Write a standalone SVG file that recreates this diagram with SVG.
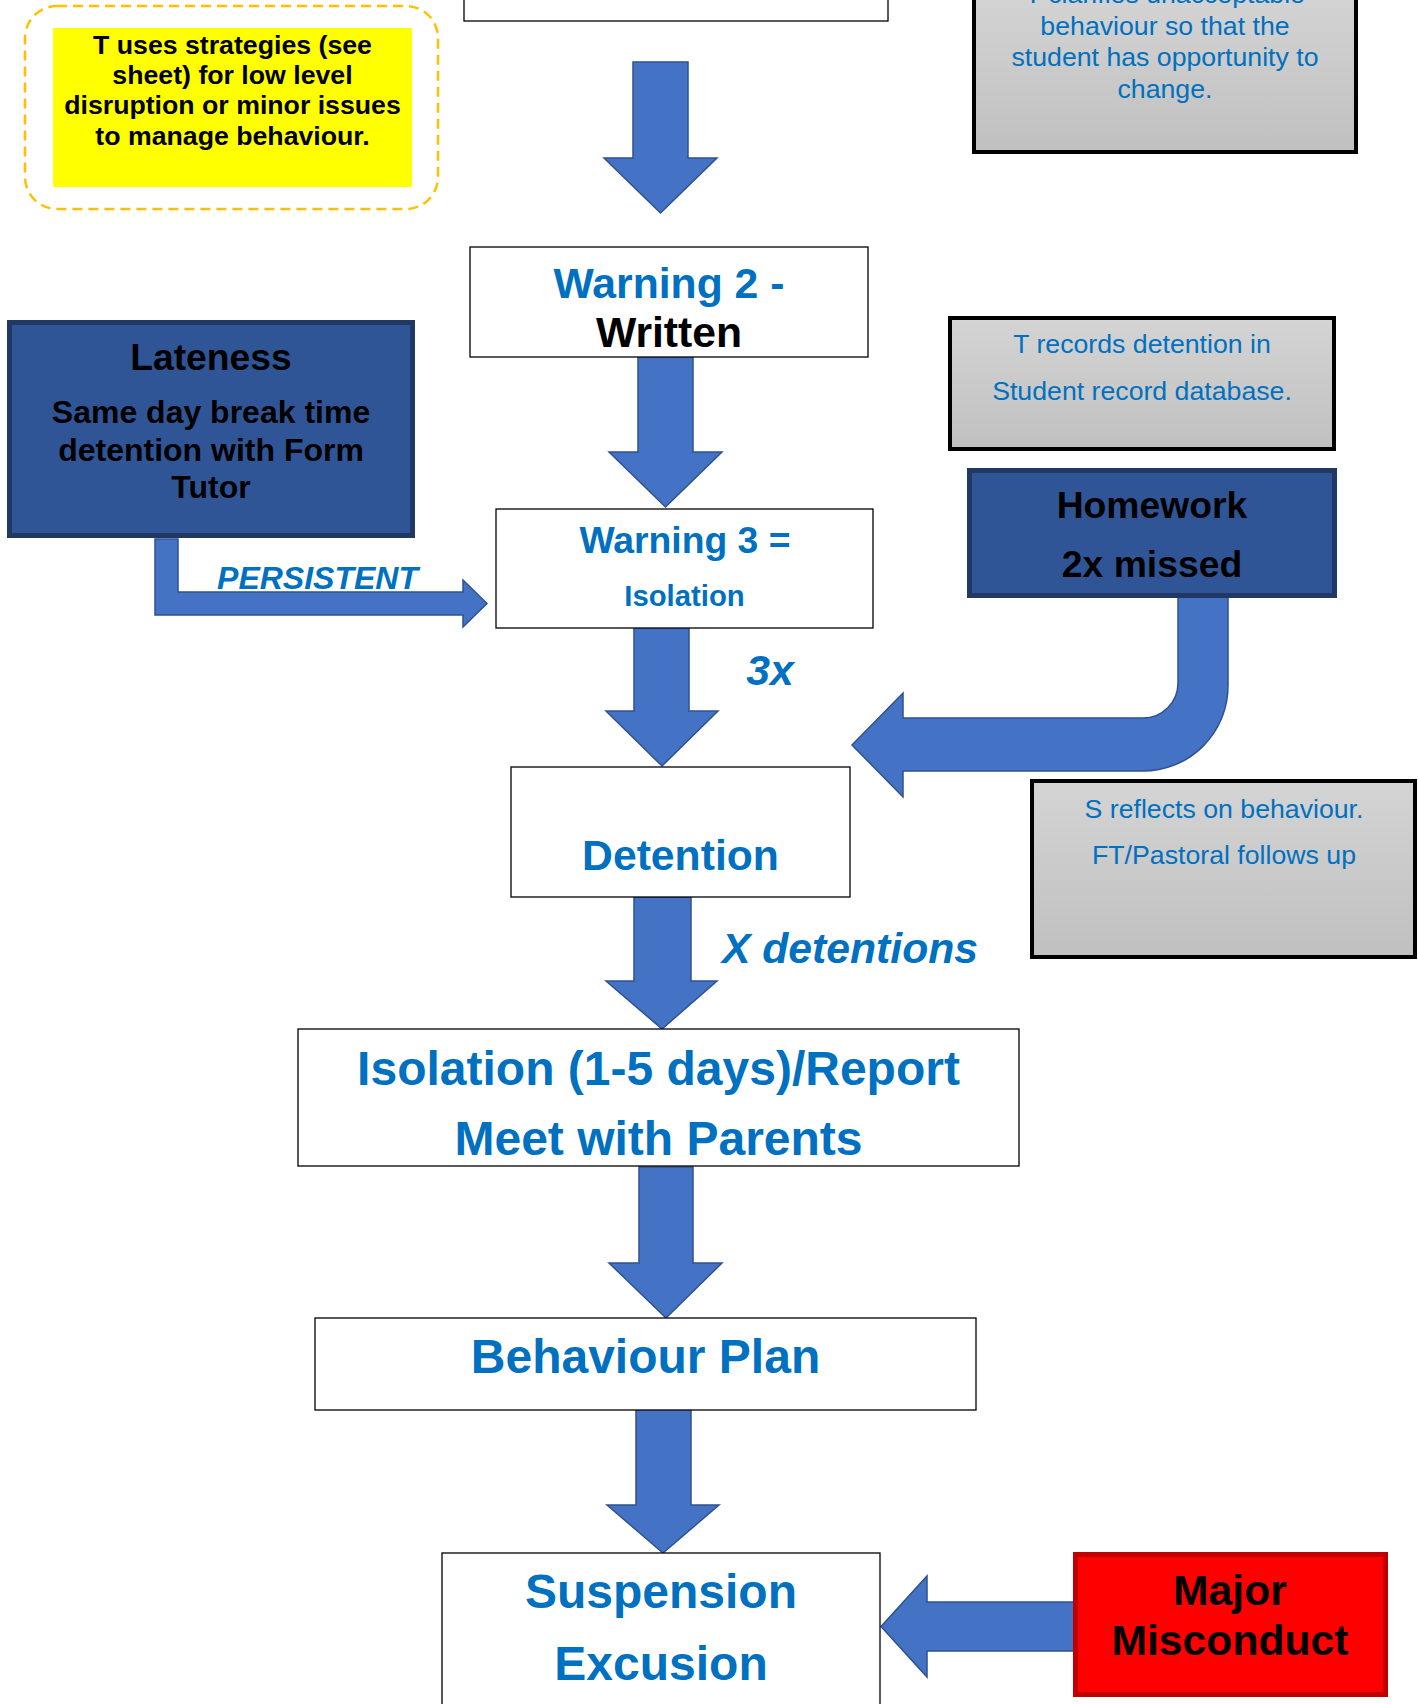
<svg xmlns="http://www.w3.org/2000/svg" width="1418" height="1704" viewBox="0 0 1418 1704">
<defs>
<linearGradient id="grey" x1="0" y1="0" x2="0" y2="1">
<stop offset="0" stop-color="#D4D4D4"/>
<stop offset="1" stop-color="#C0C0C0"/>
</linearGradient>
<style>
.t{font-family:"Liberation Sans",Arial,sans-serif;text-anchor:middle}
.b{font-weight:bold}
.i{font-style:italic}
.blue{fill:#0070C0}
.blk{fill:#000}
.wbox{fill:#fff;stroke:#000;stroke-width:1.3}
.gbox{fill:url(#grey);stroke:#000;stroke-width:4}
.nbox{fill:#2F5597;stroke:#1F3864;stroke-width:5}
.arr{fill:#4472C4;stroke:#2F528F;stroke-width:1.5;stroke-linejoin:miter}
</style>
</defs>
<rect width="1418" height="1704" fill="#fff"/>

<g id="connectors">
<polygon class="arr" points="633,62 688,62 688,158 717,158 660.5,213 604,158 633,158"/>
<polygon class="arr" points="638,356 693,356 693,452 722,452 665.5,507 609,452 638,452"/>
<polygon class="arr" points="634,616 689,616 689,711 718,711 662,766 606,711 634,711"/>
<polygon class="arr" points="634,897 691,897 691,981 717,981 662,1029 606,981 634,981"/>
<polygon class="arr" points="639,1167 693,1167 693,1263 722,1263 666,1318 609,1263 639,1263"/>
<polygon class="arr" points="636,1409 691,1409 691,1505 719,1505 663,1553 607,1505 636,1505"/>
<polygon class="arr" points="1076,1602 927,1602 927,1576 881,1626.5 927,1677 927,1651 1076,1651"/>
<path class="arr" d="M1178,596 L1178,683 A35,35 0 0 1 1143,718 L903,718 L903,693 L852,745 L903,797 L903,771 L1143,771 A85,85 0 0 0 1228,686 L1228,596 Z"/>
<path class="arr" d="M155,539 L178,539 L178,592 L463,592 L463,580 L487,603.5 L463,627 L463,615 L155,615 Z"/>
</g>

<g id="strategies">
<rect x="25" y="6" width="413" height="203" rx="32" ry="32" fill="none" stroke="#FFC000" stroke-width="2.5" stroke-dasharray="10 6"/>
<rect x="53" y="28" width="359" height="159" fill="#FFFF00"/>
<text class="t b blk" font-size="26.7"><tspan x="232.5" y="53.5">T uses strategies (see</tspan><tspan x="232.5" y="84">sheet) for low level</tspan><tspan x="232.5" y="114">disruption or minor issues</tspan><tspan x="232.5" y="144.5">to manage behaviour.</tspan></text>
</g>

<g id="top-box">
<rect class="wbox" x="464" y="-10" width="424" height="31"/>
</g>

<g id="clarifies">
<rect class="gbox" x="974" y="-10" width="382" height="162"/>
<text class="t blue" font-size="26.7"><tspan x="1165" y="3">T clarifies unacceptable</tspan><tspan x="1165" y="34.5">behaviour so that the</tspan><tspan x="1165" y="66">student has opportunity to</tspan><tspan x="1165" y="97.5">change.</tspan></text>
</g>

<g id="warning2">
<rect class="wbox" x="470" y="247" width="398" height="110"/>
<text class="t b blue" font-size="42.7" x="669" y="298">Warning 2 -</text>
<text class="t b blk" font-size="42.7" x="669" y="347">Written</text>
</g>

<g id="lateness">
<rect class="nbox" x="9.5" y="322.5" width="403" height="213"/>
<text class="t b blk" font-size="37.3" x="211" y="370">Lateness</text>
<text class="t b blk" font-size="32"><tspan x="211" y="423">Same day break time</tspan><tspan x="211" y="461">detention with Form</tspan><tspan x="211" y="498">Tutor</tspan></text>
</g>

<g id="records">
<rect class="gbox" x="950" y="318" width="384" height="131"/>
<text class="t blue" font-size="26.7"><tspan x="1142" y="353">T records detention in</tspan><tspan x="1142" y="400">Student record database.</tspan></text>
</g>

<g id="homework">
<rect class="nbox" x="969.5" y="470.5" width="365" height="125"/>
<text class="t b blk" font-size="37.3"><tspan x="1152" y="518">Homework</tspan><tspan x="1152" y="577">2x missed</tspan></text>
</g>

<g id="warning3">
<rect class="wbox" x="496" y="509" width="377" height="119"/>
<text class="t b blue" font-size="37.3" x="685" y="553">Warning 3 =</text>
<text class="t b blue" font-size="29.3" x="684.5" y="606">Isolation</text>
</g>

<g id="labels">
<text class="t b i blue" font-size="32" x="317.5" y="589">PERSISTENT</text>
<text class="t b i blue" font-size="42.7" x="770" y="685">3x</text>
<text class="t b i blue" font-size="42.7" x="850" y="963">X detentions</text>
</g>

<g id="detention">
<rect class="wbox" x="511" y="767" width="339" height="130"/>
<text class="t b blue" font-size="42.7" x="680.5" y="870">Detention</text>
</g>

<g id="reflects">
<rect class="gbox" x="1032" y="781" width="383" height="176"/>
<text class="t blue" font-size="26.7"><tspan x="1224" y="818">S reflects on behaviour.</tspan><tspan x="1224" y="864">FT/Pastoral follows up</tspan></text>
</g>

<g id="isolation">
<rect class="wbox" x="298" y="1029" width="721" height="137"/>
<text class="t b blue" font-size="48"><tspan x="658.5" y="1085">Isolation (1-5 days)/Report</tspan><tspan x="658.5" y="1155">Meet with Parents</tspan></text>
</g>

<g id="behaviour-plan">
<rect class="wbox" x="315" y="1318" width="661" height="92"/>
<text class="t b blue" font-size="48" x="645.5" y="1373">Behaviour Plan</text>
</g>

<g id="suspension">
<rect class="wbox" x="442" y="1553" width="438" height="170"/>
<text class="t b blue" font-size="48"><tspan x="661" y="1608">Suspension</tspan><tspan x="661" y="1680">Excusion</tspan></text>
</g>

<g id="major">
<rect x="1075.5" y="1554.5" width="310" height="140" fill="#FF0000" stroke="#C00000" stroke-width="5"/>
<text class="t b blk" font-size="42.7"><tspan x="1230" y="1605">Major</tspan><tspan x="1230" y="1655">Misconduct</tspan></text>
</g>
</svg>
